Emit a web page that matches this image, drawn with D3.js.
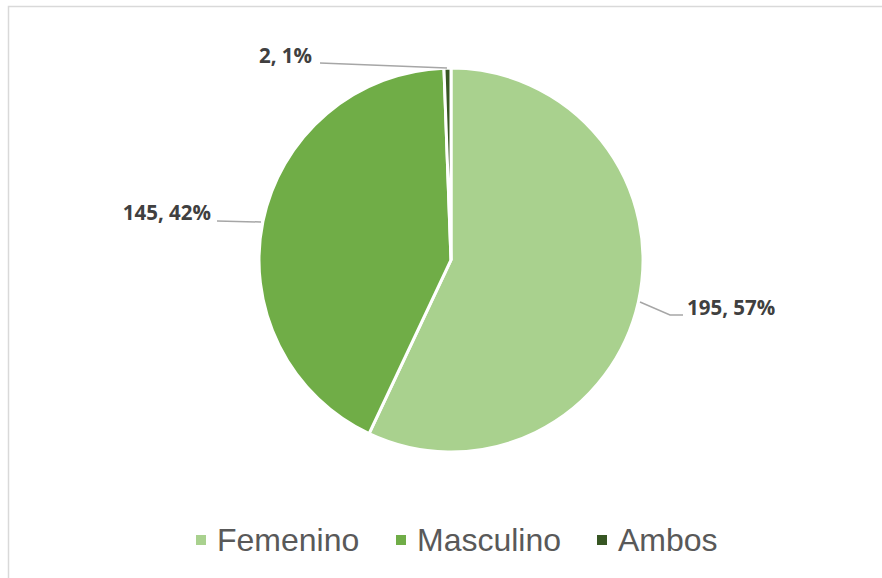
<!DOCTYPE html>
<html>
<head>
<meta charset="utf-8">
<script src="https://cdn.jsdelivr.net/npm/d3@7"></script>
<style>
    body { margin: 0; background: #fff; }
    svg { display: block; }
</style>
</head>
<body>
<svg id="chart"></svg>
<script>
var categories = ["Femenino", "Masculino", "Ambos"];
var values = [195, 145, 2];
var percents = ["57%", "42%", "1%"];
var colors = ["#A9D18E", "#70AD47", "#375623"];

function init() {
    var w = 882;
    var h = 578;
    var cx = 451;
    var cy = 260;
    var r = 192;

    var svg = d3.select("#chart")
        .attr("width", w)
        .attr("height", h);

    // chart area border
    svg.append("rect")
        .attr("x", 8.5)
        .attr("y", 6.5)
        .attr("width", w)
        .attr("height", h)
        .attr("fill", "#fff")
        .attr("stroke", "#d9d9d9")
        .attr("stroke-width", 1.5);

    var pie = d3.pie().sort(null).value(function (d) { return d; });
    var arcs = pie(values);
    var arc = d3.arc().innerRadius(0).outerRadius(r);

    var g = svg.append("g")
        .attr("transform", "translate(" + cx + "," + cy + ")");

    g.selectAll("path")
        .data(arcs)
        .enter()
        .append("path")
        .attr("d", arc)
        .attr("fill", function (d, i) { return colors[i]; })
        .attr("stroke", "#fff")
        .attr("stroke-width", 3)
        .attr("stroke-linejoin", "miter");

    // data labels with leader lines (positions relative to center)
    var labelPos = [
        { x: 236, y: 48, anchor: "start", line: [[189, 42], [219, 55], [232, 55]] },
        { x: -240, y: -47, anchor: "end", line: [[-234, -39], [-190, -38]] },
        { x: -139, y: -204, anchor: "end", line: [[-131, -197], [-4, -192]] }
    ];

    var lbl = svg.append("g")
        .attr("transform", "translate(" + cx + "," + cy + ")");

    arcs.forEach(function (d, i) {
        var p = labelPos[i];
        lbl.append("path")
            .attr("d", d3.line()(p.line))
            .attr("fill", "none")
            .attr("stroke", "#a6a6a6")
            .attr("stroke-width", 1.5);
        lbl.append("text")
            .attr("x", p.x)
            .attr("y", p.y)
            .attr("dy", "0.35em")
            .attr("text-anchor", p.anchor)
            .attr("font-family", "'Open Sans', sans-serif")
            .attr("font-weight", "bold")
            .attr("font-size", "20.5px")
            .attr("fill", "#404040")
            .text(values[i] + ", " + percents[i]);
    });

    // legend
    var legendX = [196, 396, 597];
    var legend = svg.append("g");
    categories.forEach(function (c, i) {
        legend.append("rect")
            .attr("x", legendX[i])
            .attr("y", 535)
            .attr("width", 10)
            .attr("height", 10)
            .attr("fill", colors[i]);
        legend.append("text")
            .attr("x", legendX[i] + 21)
            .attr("y", 551)
            .attr("font-family", "'Liberation Sans', Arial, sans-serif")
            .attr("font-size", "32px")
            .attr("fill", "#595959")
            .text(c);
    });
}
window.onload = init;
</script>
</body>
</html>
